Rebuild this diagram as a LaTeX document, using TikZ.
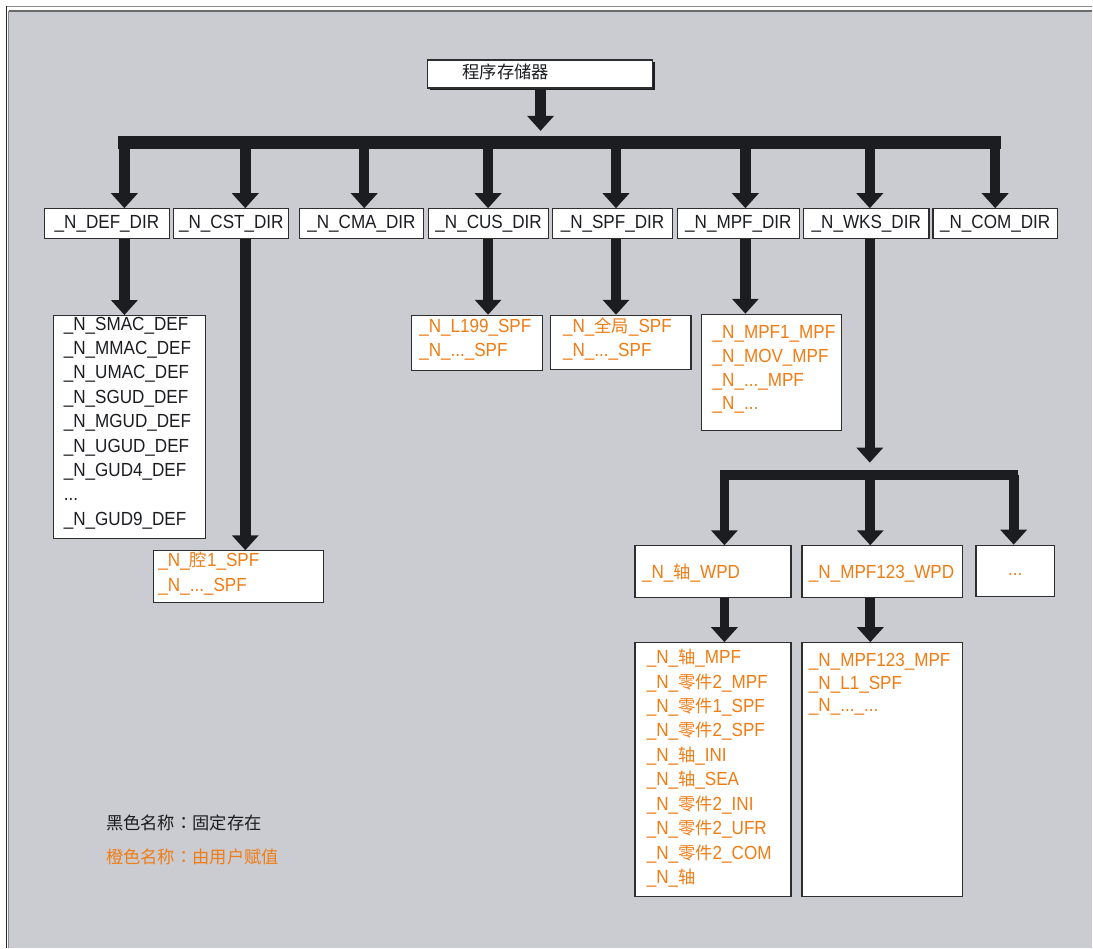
\documentclass[tikz,border=0pt]{standalone}
\usepackage{fontspec}
\setmainfont{Liberation Sans}[FakeStretch=0.9]
\newfontfamily\cjk{Noto Sans CJK SC}[Scale=0.91]
\newfontfamily\cjkpunct{Noto Sans CJK TC}[Scale=0.91]
\usetikzlibrary{arrows.meta,shadows}
\usepackage{xcolor}
\definecolor{panel}{HTML}{CBCCD1}
\definecolor{ink}{HTML}{1C1D21}
\definecolor{rim}{HTML}{2E2E2E}
\definecolor{usrorange}{HTML}{F07C14}
\newcommand{\zh}[1]{{\cjk #1}}
\newcommand{\zhcolon}{{\cjkpunct ：}}

\begin{document}
\begin{tikzpicture}[x=1pt, y=-1pt,
    every node/.style={font=\fontsize{19pt}{24.4pt}\selectfont, text=ink},
    root/.style={draw=rim, line width=1.2pt, fill=white, inner xsep=35pt, inner ysep=5pt, text width=155pt, align=left, text height=14pt, text depth=4pt, drop shadow={shadow xshift=2.5pt, shadow yshift=-2.5pt, opacity=1, fill=ink}},
    dir/.style={draw=rim, line width=1.2pt, fill=white, minimum height=30pt, inner sep=0pt, text height=14pt, text depth=4pt},
    list/.style={draw=rim, line width=1.2pt, fill=white, anchor=north west, align=left, inner ysep=0pt},
    usr/.style={text=usrorange},
    trunk/.style={-{Triangle[width=26pt,length=15pt]}, line width=10.5pt, color=ink},
    bus/.style={line width=12.5pt, color=ink},
]

\fill[white] (0,0) rectangle (1093,949);
\fill[panel] (9,12) rectangle (1093,949);
\draw[line width=1.2pt, color=black!45] (6,6.6) -- (1093,6.6);
\draw[line width=1.8pt, color=black!58] (9,11.1) -- (1093,11.1);
\draw[line width=1.2pt, color=black!85] (6.2,6) -- (6.2,949);
\draw[line width=1.2pt, color=black!45] (8.8,11) -- (8.8,949);
\useasboundingbox (0,0) rectangle (1093,949);

\node[root] (prog) at (540.5,74) {\zh{程序存储器}};

\node[dir, minimum width=125pt] (def) at (107,224) {\_N\_DEF\_DIR};
\node[dir, minimum width=115pt] (cst) at (231.5,224) {\_N\_CST\_DIR};
\node[dir, minimum width=124.5pt] (cma) at (361.75,224) {\_N\_CMA\_DIR};
\node[dir, minimum width=120pt] (cus) at (489,224) {\_N\_CUS\_DIR};
\node[dir, minimum width=120pt] (spf) at (613,224) {\_N\_SPF\_DIR};
\node[dir, minimum width=122pt] (mpf) at (739,224) {\_N\_MPF\_DIR};
\node[dir, minimum width=125.5pt] (wks) at (867,224) {\_N\_WKS\_DIR};
\node[dir, minimum width=124.5pt] (com) at (996,224) {\_N\_COM\_DIR};

\node[list, inner xsep=10pt, text width=132pt, text height=14.5pt, text depth=208.2pt] (deflist) at (53.3,315.3) {\_N\_SMAC\_DEF\\\_N\_MMAC\_DEF\\\_N\_UMAC\_DEF\\\_N\_SGUD\_DEF\\\_N\_MGUD\_DEF\\\_N\_UGUD\_DEF\\\_N\_GUD4\_DEF\\...\\\_N\_GUD9\_DEF};
\node[list, usr, inner xsep=5pt, text width=160pt, text height=16.1pt, text depth=35.2pt] (cstlist) at (153,550.7) {\_N\_\zh{腔}1\_SPF\\\_N\_...\_SPF};
\node[list, usr, inner xsep=8pt, text width=115.7pt, text height=16.8pt, text depth=38.2pt] (cuslist) at (411,315) {\_N\_L199\_SPF\\\_N\_...\_SPF};
\node[list, usr, inner xsep=13pt, text width=115pt, text height=16.8pt, text depth=37.2pt] (spflist) at (550,315) {\_N\_\zh{全局}\_SPF\\\_N\_...\_SPF};
\node[list, usr, inner xsep=11pt, text width=118pt, text height=24.5pt, text depth=91.5pt, font=\fontsize{19pt}{23.7pt}\selectfont] (mpflist) at (701.7,314) {\_N\_MPF1\_MPF\\\_N\_MOV\_MPF\\\_N\_...\_MPF\\\_N\_...};

\node[list, usr, inner xsep=7pt, text width=142pt, text height=32.8pt, text depth=18.5pt] (axiswpd) at (635,545.7) {\_N\_\zh{轴}\_WPD};
\node[list, usr, inner xsep=7pt, text width=146.7pt, text height=32.8pt, text depth=18.5pt] (partwpd) at (802,545.7) {\_N\_MPF123\_WPD};
\node[dir, usr, minimum width=78.3pt, minimum height=51.3pt] (morewpd) at (1016,571.35) {...};

\node[list, usr, inner xsep=11.7pt, text width=132.6pt, text height=20.8pt, text depth=233.5pt, font=\fontsize{19pt}{24.48pt}\selectfont] (axislist) at (635,642.7) {\_N\_\zh{轴}\_MPF\\\_N\_\zh{零件}2\_MPF\\\_N\_\zh{零件}1\_SPF\\\_N\_\zh{零件}2\_SPF\\\_N\_\zh{轴}\_INI\\\_N\_\zh{轴}\_SEA\\\_N\_\zh{零件}2\_INI\\\_N\_\zh{零件}2\_UFR\\\_N\_\zh{零件}2\_COM\\\_N\_\zh{轴}};
\node[list, usr, inner xsep=7pt, text width=146.7pt, text height=24.1pt, text depth=230.2pt, font=\fontsize{19pt}{22.5pt}\selectfont] (partlist) at (802,642.7) {\_N\_MPF123\_MPF\\\_N\_L1\_SPF\\\_N\_...\_...};

\node[anchor=west, inner sep=0pt] (fixed) at (106,823.5) {\zh{黑色名称}\zhcolon\zh{固定存在}};
\node[anchor=west, inner sep=0pt, usr] (userdef) at (106,857.5) {\zh{橙色名称}\zhcolon\zh{由用户赋值}};

\coordinate (hub) at (541,131);
\coordinate (busL) at (118.5,142.5);
\coordinate (busR) at (1001.5,142.5);
\coordinate (cDEF) at (124.5,142.5);
\coordinate (cCST) at (245.5,142.5);
\coordinate (cCMA) at (364.5,142.5);
\coordinate (cCUS) at (488.5,142.5);
\coordinate (cSPF) at (616.5,142.5);
\coordinate (cMPF) at (746,142.5);
\coordinate (cWKS) at (870.5,142.5);
\coordinate (cCOM) at (996,142.5);

\draw[trunk] (prog.south -| hub) -- (hub);
\draw[bus] (busL) -- (busR);
\draw[trunk] (cDEF) -- (cDEF |- def.north);
\draw[trunk] (cCST) -- (cCST |- cst.north);
\draw[trunk] (cCMA) -- (cCMA |- cma.north);
\draw[trunk] (cCUS) -- (cCUS |- cus.north);
\draw[trunk] (cSPF) -- (cSPF |- spf.north);
\draw[trunk] (cMPF) -- (cMPF |- mpf.north);
\draw[trunk] (cWKS) -- (cWKS |- wks.north);
\draw[trunk] (cCOM) -- (cCOM |- com.north);

\draw[trunk] (def.south -| cDEF) -- (deflist.north -| cDEF);
\draw[trunk] (cst.south -| cCST) -- (cstlist.north -| cCST);
\draw[trunk] (cus.south -| cCUS) -- (cuslist.north -| cCUS);
\draw[trunk] (spf.south -| cSPF) -- (spflist.north -| cSPF);
\draw[trunk] (mpf.south -| cMPF) -- (mpflist.north -| cMPF);

\coordinate (hubW) at (870.5,463);
\coordinate (wbusL) at (720.5,475.7);
\coordinate (wbusR) at (1019,475.7);
\coordinate (wAXIS) at (725,475.7);
\coordinate (wPART) at (871,475.7);
\coordinate (wMORE) at (1014.5,475.7);

\draw[trunk] (wks.south -| cWKS) -- (hubW);
\draw[bus, line width=10pt] (wbusL) -- (wbusR);
\draw[trunk, line width=9.8pt] (wAXIS) -- (wAXIS |- axiswpd.north);
\draw[trunk, line width=9.8pt] (wPART) -- (wPART |- partwpd.north);
\draw[trunk, line width=9.8pt] (wMORE) -- (wMORE |- morewpd.north);
\draw[trunk, line width=9.8pt] (axiswpd.south -| wAXIS) -- (axislist.north -| wAXIS);
\draw[trunk, line width=9.8pt] (partwpd.south -| wPART) -- (partlist.north -| wPART);

\end{tikzpicture}
\end{document}
